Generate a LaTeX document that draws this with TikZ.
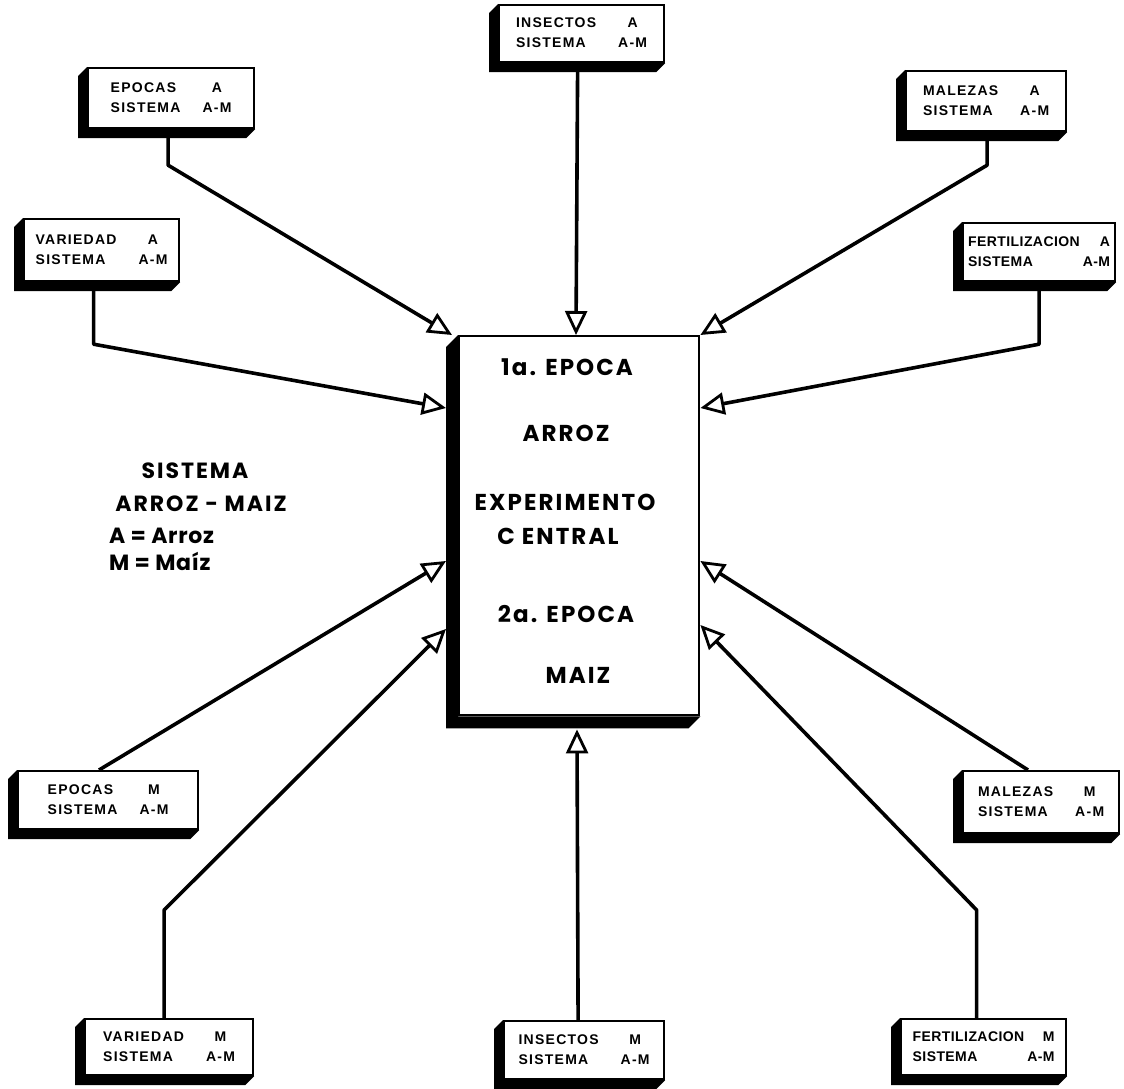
\documentclass[tikz,border=0pt]{standalone}
\usepackage{fontspec}
\setmainfont{Liberation Sans}
\newfontfamily\boxfont{Liberation Sans}[LetterSpace=9]
\newfontfamily\narrowboxfont{Liberation Sans}[LetterSpace=3]
\newfontfamily\bigfont{Poppins}[LetterSpace=9]
\newfontfamily\legendfont{Poppins}[LetterSpace=3]
\usetikzlibrary{arrows.meta,calc}

% black bevelled band on the left and lower side of a box
\newcommand\dropshade[2]{%
  \fill (#1.north west) -- ++(-#2,#2) -- ($(#1.south west)+(-#2,#2)$)
    -- ($(#1.south east)+(-#2,#2)$) -- (#1.south east) -- (#1.south west) -- cycle;}

% two-line label of a small box
\newcommand\twoline[2][22pt]{%
  \begin{tabular}{@{}l@{\hspace{#1}}c@{}}#2\\ SISTEMA & A-M\end{tabular}}
\newcommand\twolinefer[1]{{\narrowboxfont\bfseries
  \begin{tabular}{@{}l@{\hspace{3pt}}r@{}}FERTILIZACION & #1\\ SISTEMA & A-M\end{tabular}}}

\tikzset{
  sbox/.style={draw, line width=2.2pt, fill=white, anchor=north west, inner sep=0pt,
    font=\boxfont\bfseries\fontsize{14}{20}\selectfont},
  cbox/.style={draw, line width=2.4pt, fill=white, anchor=north west, inner sep=0pt,
    minimum width=240pt, minimum height=379pt},
  big/.style={font=\bigfont\bfseries\fontsize{23}{27}\selectfont, inner sep=0pt},
  legend/.style={font=\legendfont\bfseries\fontsize{22}{27}\selectfont, inner sep=0pt},
  conn/.style={line width=3.6pt, line join=round,
    -{Triangle[open, length=24pt, width=22pt, line width=2.8pt]}},
}

\begin{document}
\begin{tikzpicture}[x=1pt, y=-1pt]
\useasboundingbox (0,0) rectangle (1124,1089);

% central experiment
\node[cbox] (central) at (458,335) {};
\dropshade{central}{12}
\node[big] (t1) at (567,367) {1a. EPOCA};
\node[big] (t2) at (566,433) {ARROZ};
\node[big] (t3) at (565,502) {EXPERIMENTO};
\node[big] (t4) at (558,536) {C ENTRAL};
\node[big] (t5) at (566,614) {2a. EPOCA};
\node[big] (t6) at (578,675) {MAIZ};

% legend
\node[legend, font=\bigfont\bfseries\fontsize{22}{27}\selectfont] (l1) at (195,471) {SISTEMA};
\node[legend, font=\bigfont\bfseries\fontsize{22}{27}\selectfont] (l2) at (201,504) {ARROZ - MAIZ};
\node[legend, anchor=west] (l3) at (109,536) {A = Arroz};
\node[legend, anchor=west] (l4) at (109,561) {M = Maíz};

% surrounding boxes
\node[sbox, minimum width=166pt, minimum height=60pt] (epA) at (87,67) {\twoline{EPOCAS & A}};
\node[sbox, minimum width=165pt, minimum height=57pt] (insA) at (498,4) {\twoline{INSECTOS & A}};
\node[sbox, minimum width=160pt, minimum height=60pt] (malA) at (905,70) {\twoline{MALEZAS & A}};
\node[sbox, minimum width=155pt, minimum height=62pt] (varA) at (23,218) {\twoline{VARIEDAD & A}};
\node[sbox, minimum width=152pt, minimum height=58pt] (ferA) at (962,222) {\twolinefer{A}};
\node[sbox, minimum width=180pt, minimum height=58pt] (epM) at (17,770) {\twoline{EPOCAS & M}};
\node[sbox, minimum width=168pt, minimum height=56pt] (varM) at (84,1018) {\twoline{VARIEDAD & M}};
\node[sbox, minimum width=160pt, minimum height=58pt] (insM) at (503,1020) {\twoline{INSECTOS & M}};
\node[sbox, minimum width=156pt, minimum height=62pt] (malM) at (962,770) {\twoline{MALEZAS & M}};
\node[sbox, minimum width=165pt, minimum height=56pt] (ferM) at (900,1018) {\twolinefer{M}};

\foreach \b in {epA,insA,malA,varA,ferA,epM,varM,insM,malM,ferM}{\dropshade{\b}{9}}

% arrow targets on the central box
\coordinate (tEpA)  at ($(central.north west)+(-6,0)$);
\coordinate (tInsA) at ($(central.north west)+(118,0)$);
\coordinate (tMalA) at ($(central.north east)+(0,0)$);
\coordinate (tVarA) at ($(central.north west)+(-12,73)$);
\coordinate (tFerA) at ($(central.north east)+(0,73)$);
\coordinate (tEpM)  at ($(central.north west)+(-12,226)$);
\coordinate (tVarM) at ($(central.north west)+(-12,294)$);
\coordinate (tInsM) at ($(central.south west)+(119,13)$);
\coordinate (tMalM) at ($(central.north east)+(0,226)$);
\coordinate (tFerM) at ($(central.north east)+(0,290)$);

% connectors
\draw[conn] ($(epA.south)+(-3,9)$) -- ++(0,27) -- (tEpA);
\draw[conn] ($(insA.south)+(-4,8)$) -- (tInsA);
\draw[conn] ($(malA.south)+(1,9)$) -- ++(0,24) -- (tMalA);
\draw[conn] ($(varA.south)+(-8,9)$) -- ++(0,53) -- (tVarA);
\draw[conn] ($(ferA.south)+(0,9)$) -- ++(0,53) -- (tFerA);
\draw[conn] ($(epM.north west)+(82,0)$) -- (tEpM);
\draw[conn] ($(varM.north)+(-5,0)$) -- ++(0,-108) -- (tVarM);
\draw[conn] ($(insM.north)+(-6,0)$) -- (tInsM);
\draw[conn] ($(malM.north west)+(66,0)$) -- (tMalM);
\draw[conn] ($(ferM.north)+(-7,0)$) -- ++(0,-108) -- (tFerM);
\end{tikzpicture}
\end{document}
